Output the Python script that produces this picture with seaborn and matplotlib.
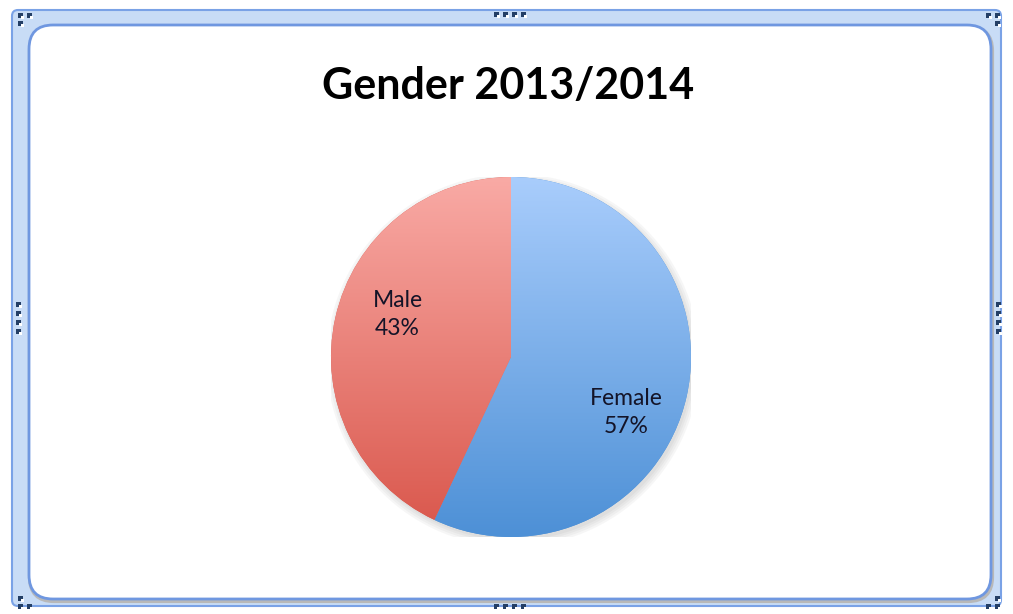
import numpy as np
import matplotlib
matplotlib.use('Agg')
import matplotlib.pyplot as plt
import seaborn as sns
from matplotlib.colors import LinearSegmentedColormap
from matplotlib.patches import FancyBboxPatch, Rectangle, Circle

# data
genders = ['Female', 'Male']
shares = [57, 43]
top_colors = ['#a9cdfc', '#f9aaa5']
bottom_colors = ['#4d90d6', '#d9564b']
title = 'Gender 2013/2014'

sns.set_theme(style='white')
plt.rcParams['font.family'] = ['Lato', 'DejaVu Sans']

W, H = 1013, 614
fig = plt.figure(figsize=(W / 100, H / 100), dpi=100)

# frame (pixel coordinates, y pointing down)
bg = fig.add_axes([0, 0, 1, 1])
bg.set_xlim(0, W)
bg.set_ylim(H, 0)
bg.axis('off')

bg.add_patch(FancyBboxPatch((12, 10), W - 24, H - 18,
                            boxstyle='round,pad=0,rounding_size=6',
                            fc='#c8dcf6', ec='#7aa2e6', lw=1.5))
bg.add_patch(FancyBboxPatch((30, 27), 962, 574,
                            boxstyle='round,pad=0,rounding_size=24',
                            fc='none', ec='#b8b8b8', lw=3, zorder=2))
bg.add_patch(FancyBboxPatch((29, 25), 962, 574,
                            boxstyle='round,pad=0,rounding_size=24',
                            fc='white', ec='#6f97e0', lw=2, zorder=3))

# sizing handles
def handle(x, y):
    bg.add_patch(Rectangle((x, y), 5, 5, fc='#243f66', ec='none', zorder=4))
    bg.add_patch(Rectangle((x + 2.5, y + 2.5), 3, 3, fc='white', ec='none', zorder=5))

for hx, hy in [(18, 13), (27, 13), (18, 21)]:
    handle(hx, hy)
for hx, hy in [(986, 13), (995, 13), (995, 21)]:
    handle(hx, hy)
for hx, hy in [(18, 596), (18, 604), (27, 604)]:
    handle(hx, hy)
for hx, hy in [(995, 596), (986, 604), (995, 604)]:
    handle(hx, hy)
for k in range(4):
    handle(494 + k * 9, 12)
    handle(494 + k * 9, 604)
    handle(16, 302 + k * 9)
    handle(996, 302 + k * 9)

bg.text(508, 86, title, ha='center', va='center', fontsize=31,
        fontweight='bold', color='black', zorder=6)

# pie
cx, cy, r = 511, 357, 180
ax = fig.add_axes([(cx - r) / W, (H - cy - r) / H, 2 * r / W, 2 * r / H])
ax.set_xlim(-1, 1)
ax.set_ylim(-1, 1)
ax.axis('off')

# soft shadow
for i, a in enumerate([0.05, 0.05, 0.05, 0.06]):
    ax.add_patch(Circle((0.012, -0.018), 1.0 + 0.012 * (3 - i), fc='#606060',
                        ec='none', alpha=a, zorder=0))

wedges, texts, autotexts = ax.pie(shares, startangle=90, counterclock=False,
                                  colors=bottom_colors, autopct='%1.0f%%',
                                  pctdistance=0.7, radius=1.0,
                                  wedgeprops=dict(linewidth=0))
ax.set_xlim(-1, 1)
ax.set_ylim(-1, 1)

grad = np.linspace(0, 1, 256).reshape(-1, 1)
for w, c0, c1 in zip(wedges, top_colors, bottom_colors):
    cmap = LinearSegmentedColormap.from_list('g', [c0, c1])
    im = ax.imshow(grad, cmap=cmap, extent=(-1, 1, -1, 1), origin='upper',
                   aspect='auto', zorder=2)
    im.set_clip_path(w)

label_pos = [(0.64, -0.31), (-0.63, 0.235)]
for t, name, pos in zip(autotexts, genders, label_pos):
    t.set_text(f'{name}\n{t.get_text()}')
    t.set_position(pos)
    t.set_fontsize(16.5)
    t.set_linespacing(1.42)
    t.set_color('#141428')
    t.set_zorder(5)

fig.savefig('out.png', dpi=100)
